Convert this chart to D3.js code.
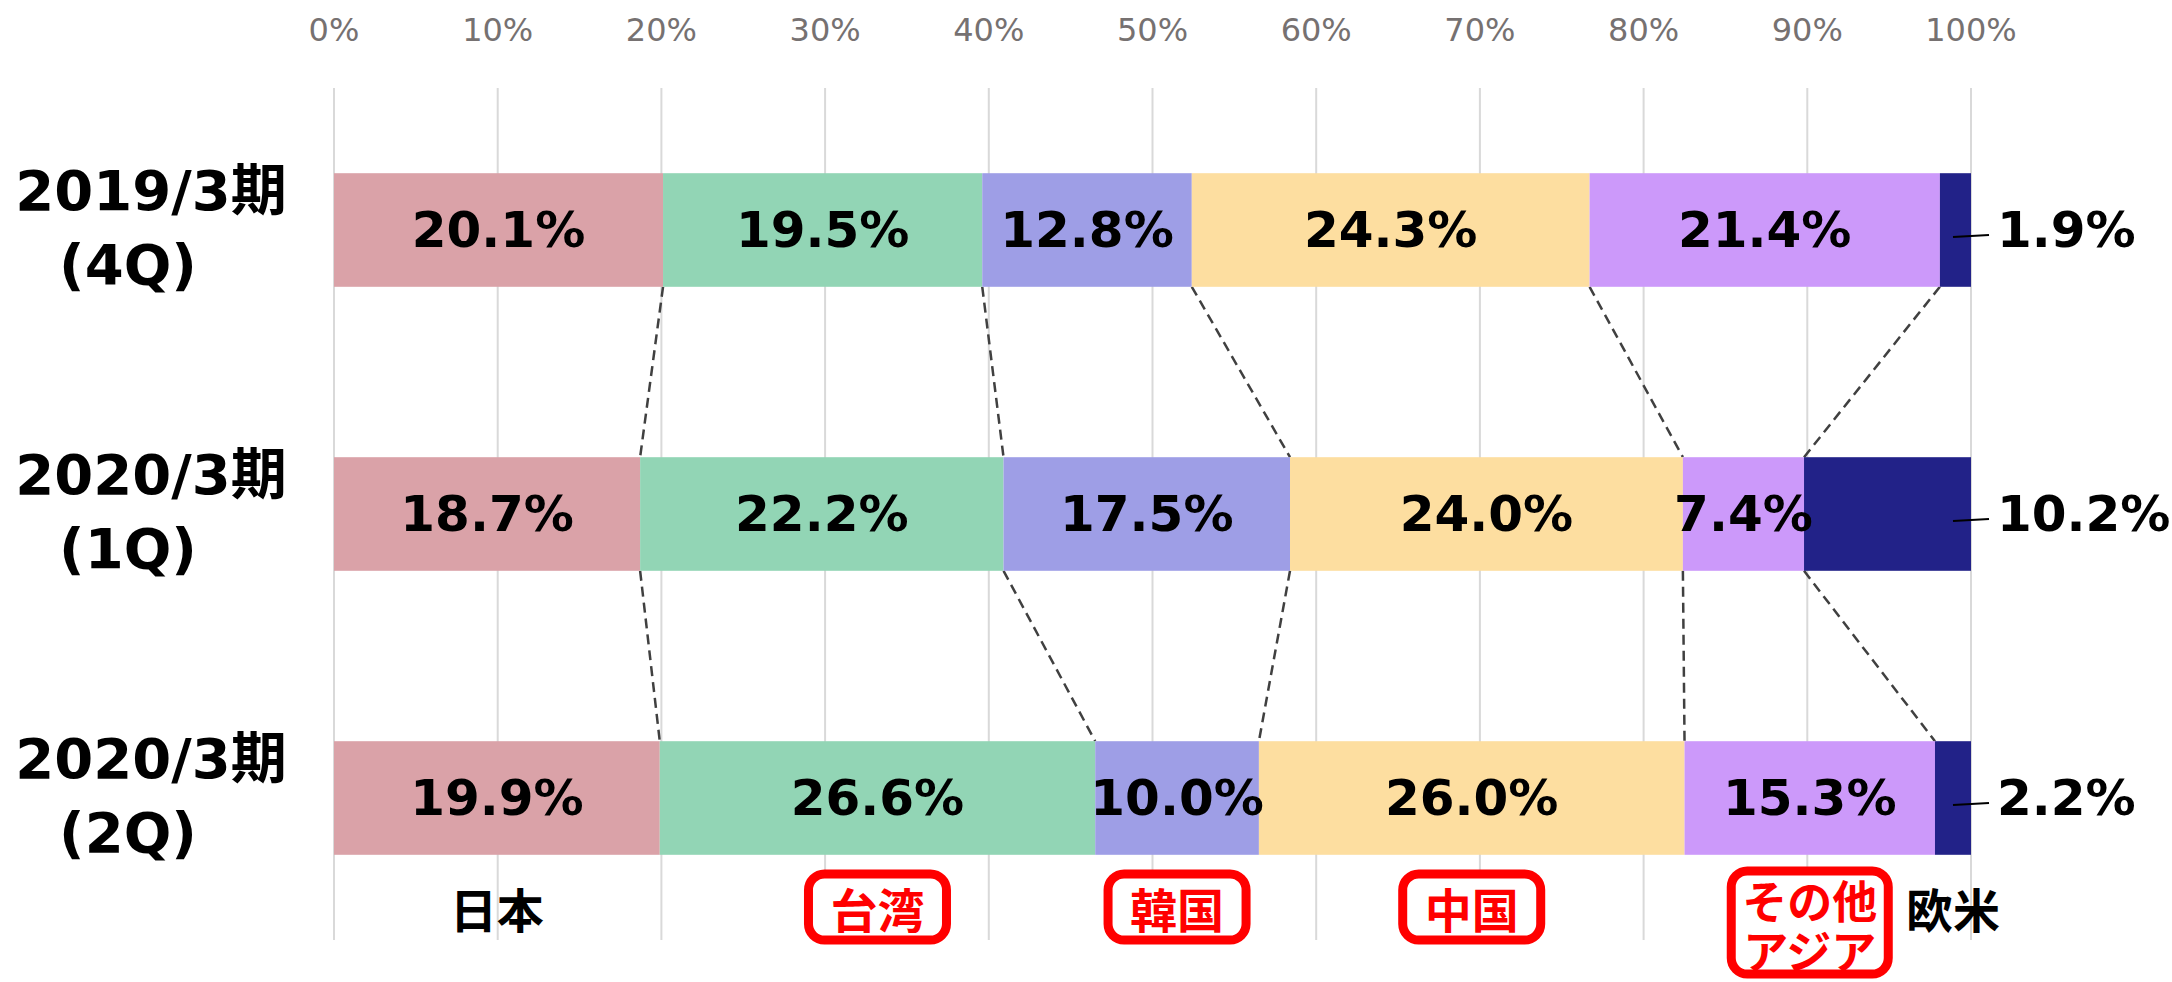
<!DOCTYPE html>
<html>
<head>
<meta charset="utf-8">
<script src="https://d3js.org/d3.v7.min.js"></script>
<style>
  body { margin: 0; background: #fff; }
  svg { display: block; }
  text { font-family: "DejaVu Sans", "Noto Sans CJK JP", sans-serif; }
  .cjk { font-family: "Noto Sans CJK JP", sans-serif; }
</style>
</head>
<body>
<svg id="chart" width="2172" height="982"></svg>
<script>
// periods (rows) and regions (stack order, left to right)
const periods = ["2019/3期(4Q)", "2020/3期(1Q)", "2020/3期(2Q)"];
const periodLine1 = ["2019/3期", "2020/3期", "2020/3期"];
const periodLine2 = ["(4Q)", "(1Q)", "(2Q)"];
const regions = ["日本", "台湾", "韓国", "中国", "その他アジア", "欧米"];
const regionLines = [["日本"], ["台湾"], ["韓国"], ["中国"], ["その他", "アジア"], ["欧米"]];
const boxed = ["台湾", "韓国", "中国", "その他アジア"];

// share by region, one value per period (%)
const japan = [20.1, 18.7, 19.9];
const taiwan = [19.5, 22.2, 26.6];
const korea = [12.8, 17.5, 10.0];
const china = [24.3, 24.0, 26.0];
const otherAsia = [21.4, 7.4, 15.3];
const westEU = [1.9, 10.2, 2.2];

const tickValues = [0, 10, 20, 30, 40, 50, 60, 70, 80, 90, 100];

const colors = ["#DAA2A8", "#92D5B5", "#9E9EE6", "#FDDEA0", "#CC99FA", "#222288"];

const series = [japan, taiwan, korea, china, otherAsia, westEU];
const rows = periods.map((p, i) => {
  const r = { period: p };
  regions.forEach((k, j) => r[k] = series[j][i]);
  return r;
});
const stacked = d3.stack().keys(regions)(rows);

const svg = d3.select("#chart");
const x = d3.scaleLinear().domain([0, 100]).range([334, 1971]);
const y = d3.scaleBand().domain(periods).range([88, 940]).paddingInner(0.6).paddingOuter(0.3);
const bw = y.bandwidth();
const color = d3.scaleOrdinal().domain(regions).range(colors);

// gridlines
svg.append("g").selectAll("line").data(tickValues).join("line")
  .attr("x1", d => x(d)).attr("x2", d => x(d))
  .attr("y1", y.range()[0]).attr("y2", y.range()[1])
  .attr("stroke", "#D9D9D9").attr("stroke-width", 2);

// top tick labels
svg.append("g").selectAll("text").data(tickValues).join("text")
  .attr("x", d => x(d)).attr("y", 30)
  .attr("text-anchor", "middle").attr("dominant-baseline", "central")
  .attr("font-size", 32).attr("fill", "#767171")
  .text(d => d + "%");

// dashed series lines between bars
const conn = svg.append("g");
for (let i = 0; i < periods.length - 1; i++) {
  for (let k = 0; k < regions.length - 1; k++) {
    conn.append("line")
      .attr("x1", x(stacked[k][i][1])).attr("y1", y(periods[i]) + bw)
      .attr("x2", x(stacked[k][i + 1][1])).attr("y2", y(periods[i + 1]))
      .attr("stroke", "#404040").attr("stroke-width", 2.5)
      .attr("stroke-dasharray", "10,6");
  }
}

// bars
svg.append("g").selectAll("g").data(stacked).join("g")
  .attr("fill", d => color(d.key))
  .selectAll("rect").data(d => d).join("rect")
  .attr("x", d => x(d[0])).attr("width", d => x(d[1]) - x(d[0]))
  .attr("y", d => y(d.data.period)).attr("height", bw);

// value labels
const labels = svg.append("g");
stacked.forEach((s, k) => {
  s.forEach((d, i) => {
    const cy = y(periods[i]) + bw / 2;
    const v = d[1] - d[0];
    if (k < regions.length - 1) {
      labels.append("text")
        .attr("x", x((d[0] + d[1]) / 2)).attr("y", cy)
        .attr("text-anchor", "middle").attr("dominant-baseline", "central")
        .attr("font-size", 50).attr("font-weight", "bold").attr("fill", "#000")
        .text(v.toFixed(1) + "%");
    } else {
      labels.append("line")
        .attr("x1", x(100) - 18).attr("x2", x(100) + 18)
        .attr("y1", cy + 7).attr("y2", cy + 5)
        .attr("stroke", "#000").attr("stroke-width", 2);
      labels.append("text")
        .attr("x", x(100) + 26).attr("y", cy)
        .attr("text-anchor", "start").attr("dominant-baseline", "central")
        .attr("font-size", 50).attr("font-weight", "bold").attr("fill", "#000")
        .text(v.toFixed(1) + "%");
    }
  });
});

// period labels on the left
const pl = svg.append("g").attr("font-size", 56).attr("font-weight", "bold").attr("fill", "#000");
periods.forEach((p, i) => {
  const cy = y(p) + bw / 2;
  pl.append("text").attr("x", 151).attr("y", cy - 40)
    .attr("text-anchor", "middle").attr("dominant-baseline", "central")
    .text(periodLine1[i]);
  pl.append("text").attr("x", 128).attr("y", cy + 34)
    .attr("text-anchor", "middle").attr("dominant-baseline", "central")
    .text(periodLine2[i]);
});

// region labels under the bars (centred on last row's segments)
const last = periods.length - 1;
const rl = svg.append("g");
regions.forEach((r, k) => {
  const d = stacked[k][last];
  const cx = x((d[0] + d[1]) / 2);
  const isBoxed = boxed.includes(r);
  const lines = regionLines[k];
  const multi = lines.length > 1;
  const g = rl.append("g");
  const lh = 50;
  const top = multi ? 899 : 907;
  const t = g.append("text").attr("class", "cjk")
    .attr("font-size", multi ? 45 : 47).attr("font-weight", "bold")
    .attr("fill", isBoxed ? "#FF0000" : "#000")
    .attr("text-anchor", "middle");
  lines.forEach((ln, j) => {
    t.append("tspan").attr("x", cx).attr("y", top + j * lh)
      .attr("dominant-baseline", "central").text(ln);
  });
  if (isBoxed) {
    const padX = multi ? 11 : 22;
    const tw = t.node().getBBox().width;
    g.insert("rect", "text")
      .attr("x", cx - tw / 2 - padX).attr("width", tw + padX * 2)
      .attr("y", multi ? 871 : 874).attr("height", multi ? 103 : 66)
      .attr("rx", 16).attr("fill", "#fff")
      .attr("stroke", "#FF0000").attr("stroke-width", 9);
  }
});
</script>
</body>
</html>
